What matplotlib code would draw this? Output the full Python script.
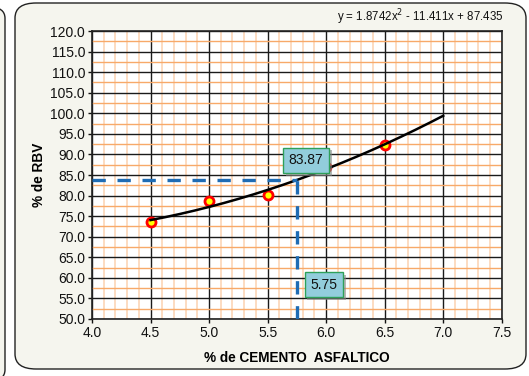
import numpy as np
import matplotlib.pyplot as plt
import matplotlib.patheffects as pe
from matplotlib.patches import FancyBboxPatch
from matplotlib.ticker import MultipleLocator

# ensayo Marshall: % de RBV vs % de cemento asfaltico
ca = [4.5, 5.0, 5.5, 6.0, 6.5]
rbv = [73.6, 78.6, 80.1, 86.9, 92.4]
coef = [1.8742, -11.411, 87.435]   # polinomio de ajuste (grado 2)
x_opt = 5.75
y_opt = 83.87

plt.rcParams['font.family'] = ['Liberation Sans', 'DejaVu Sans']

fig = plt.figure(figsize=(5.29, 3.76), dpi=100)
fig.patch.set_facecolor('white')

# marcos redondeados
W, H = 529.0, 376.0
marco = FancyBboxPatch((15/W, 7/H), 511/W, 366/H,
                       boxstyle="round,pad=0,rounding_size=0.04",
                       transform=fig.transFigure, facecolor='#f5f5ee',
                       edgecolor='#222222', linewidth=1.0, zorder=-5)
fig.patches.append(marco)
vecino = FancyBboxPatch((-300/W, -5/H), 305/W, 374/H,
                        boxstyle="round,pad=0,rounding_size=0.03",
                        transform=fig.transFigure, facecolor='#f5f5ee',
                        edgecolor='#222222', linewidth=1.0, zorder=-5)
fig.patches.append(vecino)

ax = fig.add_axes([92/W, 1-319/H, (501.7-92)/W, (319-31)/H])
ax.set_facecolor('white')
ax.set_xlim(4.0, 7.5)
ax.set_ylim(50.0, 120.0)

ax.xaxis.set_minor_locator(MultipleLocator(0.1))
ax.yaxis.set_minor_locator(MultipleLocator(2.5))
ax.set_xticks(np.arange(4.0, 7.51, 0.5))
ax.set_xticklabels(['%.1f' % v for v in np.arange(4.0, 7.51, 0.5)])
ax.set_yticks(np.arange(50, 120.1, 5))
ax.set_yticklabels(['%.1f' % v for v in np.arange(50, 120.1, 5)])

ax.grid(which='minor', axis='x', color='#fcd2b0', linewidth=1.1, zorder=0)
ax.grid(which='minor', axis='y', color='#f7a969', linewidth=1.0, zorder=0)
ax.grid(which='major', color='#1a1a1a', linewidth=1.0, zorder=1)
ax.set_axisbelow(True)

ax.tick_params(which='major', direction='out', length=3, width=1,
               labelsize=10, colors='#111111', pad=2)
ax.tick_params(which='minor', length=0)
for s in ax.spines.values():
    s.set_color('#222222')
    s.set_linewidth(1.2)

# curva de ajuste
xs = np.linspace(4.5, 7.0, 200)
ax.plot(xs, np.polyval(coef, xs), color='black', linewidth=1.8, zorder=4)

ax.plot(ca, rbv, 'o', markersize=6.5, markerfacecolor='#ffff00',
        markeredgecolor='#ff0000', markeredgewidth=2, zorder=3)

# lectura del optimo
azul = '#1f6cb4'
ax.plot([4.0, x_opt], [y_opt, y_opt], color=azul, linewidth=2.4,
        dashes=(4, 3.5), zorder=5)
ax.plot([x_opt, x_opt], [50.0, y_opt], color=azul, linewidth=2.4,
        dashes=(4, 3.5), zorder=5)

caja = dict(boxstyle='square,pad=0.4', facecolor='#92cddc',
            edgecolor='#2ea05a', linewidth=1.0)
for tx, ty, txt in [(5.83, 88.6, '%.2f' % y_opt), (5.98, 58.3, '%.2f' % x_opt)]:
    t = ax.text(tx, ty, txt, fontsize=10, ha='center', va='center',
                bbox=caja, color='#111111', zorder=7)
    t.get_bbox_patch().set_path_effects(
        [pe.SimplePatchShadow(offset=(2, -2), shadow_rgbFace='#888888', alpha=0.6),
         pe.Normal()])

fig.text(503/W, 1-17/H, 'y = 1.8742x$^{2}$ - 11.411x + 87.435',
         fontsize=8.3, ha='right', va='center', color='#111111')

ax.set_ylabel('% de RBV', fontsize=9.8, fontweight='bold', labelpad=3)
ax.set_xlabel('% de CEMENTO  ASFALTICO', fontsize=9.8, fontweight='bold',
              labelpad=8)

fig.savefig('out.png', dpi=100)
